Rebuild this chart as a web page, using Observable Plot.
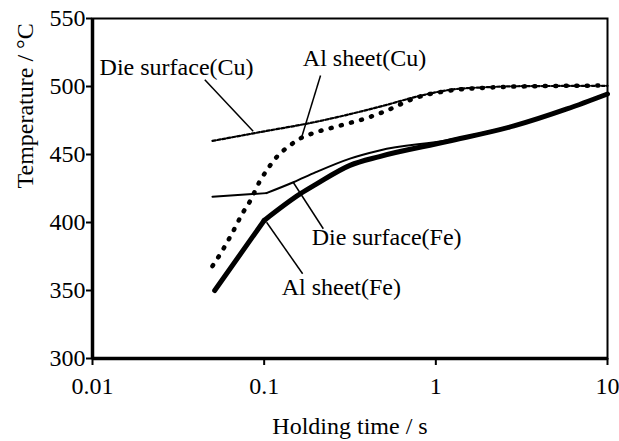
<!DOCTYPE html>
<html>
<head>
<meta charset="utf-8">
<script src="https://cdn.jsdelivr.net/npm/d3@7"></script>
<script src="https://cdn.jsdelivr.net/npm/@observablehq/plot@0.6"></script>
<style>
  html, body { margin: 0; padding: 0; background: #fff; }
</style>
</head>
<body>
<div id="chart"></div>
<script>
// Tick values
const xTicks = [0.01, 0.1, 1, 10];
const yTicks = [300, 350, 400, 450, 500, 550];

// Die surface (Cu) — thin dashed
const dieCuX = [0.05, 0.1, 0.2, 0.3, 0.5, 0.8, 1.2, 2, 3, 10];
const dieCuY = [460, 467, 474, 479, 486, 493, 497.5, 499.5, 500.2, 500.5];

// Al sheet (Cu) — thick dotted
const alCuX = [0.05, 0.055, 0.065, 0.075, 0.083, 0.094, 0.103, 0.118, 0.141, 0.165, 0.193, 0.265, 0.4, 0.5, 0.78, 1.21, 1.9, 3, 10];
const alCuY = [368, 376, 392, 407, 416, 430, 438, 448, 456.6, 462.3, 465.7, 470.6, 477, 481.5, 492, 497, 499, 500, 500.7];

// Die surface (Fe) — thin solid (kink at 0.1)
const dieFeX = [0.05, 0.103, 0.148, 0.2, 0.316, 0.47, 1.16, 2.85, 5.8, 10];
const dieFeY = [419, 421.6, 429.6, 437, 447, 453, 460.5, 471.5, 483.5, 495];

// Al sheet (Fe) — thick solid (kink at 0.1)
const alFeX = [0.0515, 0.1, 0.162, 0.2, 0.316, 0.47, 1.16, 2.85, 5.8, 10];
const alFeY = [350, 401.5, 421, 428, 442, 448.5, 459.5, 471, 483.5, 494.5];

// Annotation labels
const labelText = ["Die surface(Cu)", "Al sheet(Cu)", "Die surface(Fe)", "Al sheet(Fe)"];
const labelX = [0.0110, 0.168, 0.189, 0.1265];
const labelY = [514.2, 520.6, 389.2, 352.4];

// Leader lines
const leadX1 = [0.0451, 0.213, 0.1476, 0.1033];
const leadY1 = [504.9, 508.1, 429.6, 400.2];
const leadX2 = [0.0863, 0.165, 0.221, 0.1675];
const leadY2 = [467.1, 462.3, 395.4, 362.3];

const font = "'Liberation Serif', 'Times New Roman', serif";

// Split a series at its kink (index k): straight part then smooth part
function kinked(xs, ys, k, opts) {
  const idx1 = d3.range(0, k + 1);
  const idx2 = d3.range(k, xs.length);
  return [
    Plot.line(idx1, { x: i => xs[i], y: i => ys[i], curve: "linear", ...opts }),
    Plot.line(idx2, { x: i => xs[i], y: i => ys[i], curve: "monotone-x", ...opts })
  ];
}

const chart = Plot.plot({
  width: 619,
  height: 441,
  marginLeft: 92,
  marginRight: 12,
  marginTop: 18,
  marginBottom: 83,
  style: { fontFamily: font, fontSize: "24px", color: "#000", background: "#fff" },
  x: { type: "log", domain: [0.01, 10] },
  y: { domain: [300, 550] },
  marks: [
    Plot.frame({ stroke: "#000", strokeWidth: 2 }),
    Plot.ruleX([0.01], { stroke: "#000", strokeWidth: 3.5 }),
    Plot.ruleY([300], { stroke: "#000", strokeWidth: 3.5 }),
    Plot.axisY({ ticks: yTicks, tickFormat: d => String(d), tickSize: 6, tickPadding: 1, strokeWidth: 2, label: null, fontSize: 24, fontFamily: font }),
    Plot.axisX({ ticks: xTicks, tickFormat: d => String(d), tickSize: 7, tickPadding: 11, strokeWidth: 2, label: null, fontSize: 24, fontFamily: font }),
    Plot.text(["Holding time / s"], { frameAnchor: "bottom", dy: 75, fontSize: 24, fontFamily: font, fill: "#000" }),
    Plot.text(["Temperature / °C"], { frameAnchor: "left", rotate: -90, dx: -67, fontSize: 24, fontFamily: font, fill: "#000" }),
    Plot.line(dieCuY, { x: dieCuX, y: dieCuY, curve: "monotone-x", stroke: "#000", strokeWidth: 2.2, strokeDasharray: "3,2" }),
    Plot.line(alCuY, { x: alCuX, y: alCuY, curve: "monotone-x", stroke: "#000", strokeWidth: 4.5, strokeDasharray: "1,9.5", strokeLinecap: "round" }),
    ...kinked(dieFeX, dieFeY, 1, { stroke: "#000", strokeWidth: 2 }),
    ...kinked(alFeX, alFeY, 1, { stroke: "#000", strokeWidth: 5, strokeLinecap: "round" }),
    Plot.link(labelText, { x1: leadX1, y1: leadY1, x2: leadX2, y2: leadY2, stroke: "#000", strokeWidth: 1.5 }),
    Plot.text(labelText, { x: labelX, y: labelY, text: d => d, textAnchor: "start", fontSize: 24, fontFamily: font, fill: "#000" })
  ]
});
document.getElementById("chart").appendChild(chart);
</script>
</body>
</html>
